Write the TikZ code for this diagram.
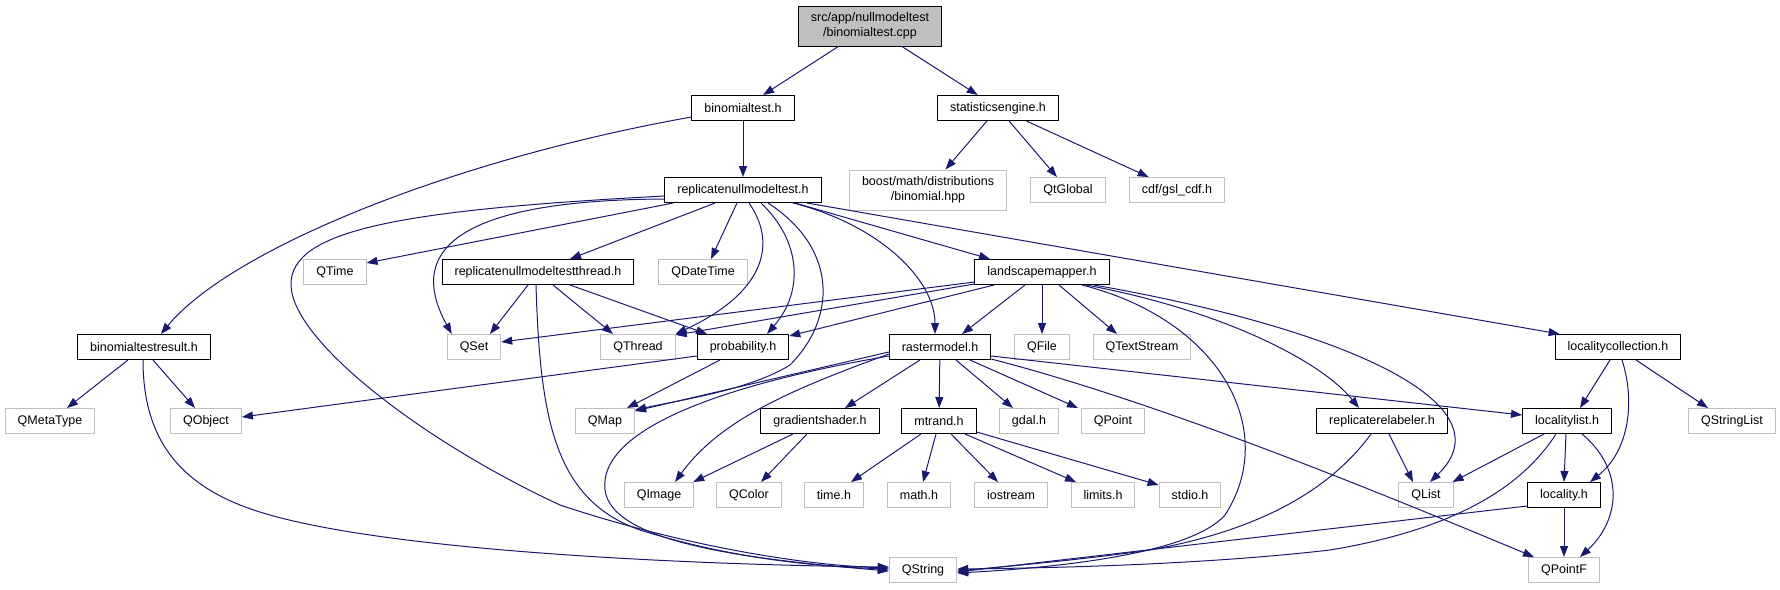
\documentclass[tikz,border=0pt]{standalone}
\usepackage{fontspec}
\setmainfont{Liberation Sans}
\usepackage{tikz}
\usetikzlibrary{arrows.meta}
\definecolor{edgeblue}{RGB}{25,25,112}
\definecolor{boxgrey}{RGB}{191,191,191}

\begin{document}
\begin{tikzpicture}[x=1pt, y=-1pt,
    box/.style={rectangle, line width=1pt, inner xsep=12.5pt, inner ysep=2pt, minimum height=25pt,
        font=\fontsize{12.5}{15}\selectfont, align=center},
    doc/.style={box, draw=black},
    ext/.style={box, draw=boxgrey},
    main/.style={box, draw=black, fill=boxgrey, minimum height=40pt},
    edge/.style={draw=edgeblue, line width=1pt, -{Triangle[length=11pt,width=8pt]}}]
                \useasboundingbox (0,0) rectangle (1780,589);

                \node (root) [main] at (870,26) {src/app/nullmodeltest\\/binomialtest.cpp};
                \node (btest) [doc] at (743,108) {binomialtest.h};
                \node (stateng) [doc] at (998,108) {statisticsengine.h};
                \node (rnmt) [doc] at (743,190) {replicatenullmodeltest.h};
                \node (boost) [ext, minimum height=40pt] at (928,190) {boost/math/distributions\\/binomial.hpp};
                \node (qtglobal) [ext] at (1068,190) {QtGlobal};
                \node (gslcdf) [ext] at (1177,190) {cdf/gsl\_cdf.h};
                \node (qtime) [ext] at (335,272) {QTime};
                \node (rnmtt) [doc] at (538,272) {replicatenullmodeltestthread.h};
                \node (qdatetime) [ext] at (703,272) {QDateTime};
                \node (lmapper) [doc] at (1042,272) {landscapemapper.h};
                \node (btresult) [doc] at (144,347) {binomialtestresult.h};
                \node (qset) [ext] at (474,347) {QSet};
                \node (qthread) [ext] at (638,347) {QThread};
                \node (prob) [doc] at (743,347) {probability.h};
                \node (rmodel) [doc] at (940,347) {rastermodel.h};
                \node (qfile) [ext] at (1042,347) {QFile};
                \node (qtextstream) [ext] at (1142,347) {QTextStream};
                \node (loccoll) [doc] at (1618,347) {localitycollection.h};
                \node (qmetatype) [ext] at (50,421) {QMetaType};
                \node (qobject) [ext] at (206,421) {QObject};
                \node (qmap) [ext] at (605,421) {QMap};
                \node (gshader) [doc] at (820,421) {gradientshader.h};
                \node (mtrand) [doc] at (939,421) {mtrand.h};
                \node (gdal) [ext] at (1029,421) {gdal.h};
                \node (qpoint) [ext] at (1113,421) {QPoint};
                \node (relabeler) [doc] at (1382,421) {replicaterelabeler.h};
                \node (loclist) [doc] at (1567,421) {localitylist.h};
                \node (qstringlist) [ext] at (1732,421) {QStringList};
                \node (qimage) [ext] at (659,495) {QImage};
                \node (qcolor) [ext] at (749,495) {QColor};
                \node (timeh) [ext] at (834,495) {time.h};
                \node (mathh) [ext] at (919,495) {math.h};
                \node (iostream) [ext] at (1011,495) {iostream};
                \node (limitsh) [ext] at (1103,495) {limits.h};
                \node (stdioh) [ext] at (1190,495) {stdio.h};
                \node (qlist) [ext] at (1426,495) {QList};
                \node (locality) [doc] at (1564,495) {locality.h};
                \node (qstring) [ext] at (923,570) {QString};
                \node (qpointf) [ext] at (1564,570) {QPointF};

                \draw [edge] (root) -- (btest);
                \draw [edge] (root) -- (stateng);
                \draw [edge] (btest) -- (rnmt);
                \draw [edge] ([yshift=-9pt]btest.west) .. controls (450,160) and (230,250) .. ([xshift=17pt]btresult.north);
                \draw [edge] (stateng) -- (boost);
                \draw [edge] (stateng) -- (qtglobal);
                \draw [edge] (stateng) -- (gslcdf);

                \draw [edge] ([yshift=-6pt]rnmt.west) .. controls (400,210) and (290,230) .. (291,285)
                    .. controls (292,340) and (420,440) .. (560,505) .. controls (680,545) and (800,565) .. ([yshift=2pt]qstring.west);
                \draw [edge] ([yshift=-9pt]rnmt.west) .. controls (480,200) and (400,240) .. ([xshift=5pt]qset.north west);
                \draw [edge] ([xshift=9pt]rnmt.south west) -- ([yshift=9pt]qtime.east);
                \draw [edge] ([xshift=-28pt]rnmt.south) -- ([xshift=32pt]rnmtt.north);
                \draw [edge] ([xshift=-6pt]rnmt.south) -- ([xshift=8pt]qdatetime.north);
                \draw [edge] ([xshift=6pt]rnmt.south) .. controls (775,240) and (770,290) .. (qthread.north east);
                \draw [edge] ([xshift=18pt]rnmt.south) .. controls (800,240) and (805,290) .. ([xshift=24pt]prob.north);
                \draw [edge] ([xshift=25pt]rnmt.south) .. controls (840,250) and (835,320) .. (790,365)
                    .. controls (750,390) and (680,400) .. ([yshift=-2pt]qmap.north east);
                \draw [edge] ([xshift=50pt]rnmt.south) .. controls (880,225) and (935,280) .. ([xshift=-5pt]rmodel.north);
                \draw [edge] ([xshift=52pt]rnmt.south) -- ([xshift=-52pt]lmapper.north);
                \draw [edge] ([xshift=64pt]rnmt.south) -- ([xshift=5pt]loccoll.north west);

                \draw [edge] ([xshift=-10pt]rnmtt.south) -- ([xshift=16pt]qset.north);
                \draw [edge] ([xshift=15pt]rnmtt.south) -- ([xshift=-25pt]qthread.north);
                \draw [edge] ([xshift=32pt]rnmtt.south) -- ([xshift=-36pt]prob.north);
                \draw [edge] ([xshift=-2pt]rnmtt.south) .. controls (540,420) and (555,500) .. (640,530)
                    .. controls (720,555) and (800,566) .. ([yshift=1pt]qstring.west);

                \draw [edge] ([yshift=-10pt]lmapper.west) -- ([yshift=5pt]qset.east);
                \draw [edge] ([yshift=-12pt]lmapper.west) -- ([yshift=12pt]qthread.east);
                \draw [edge] ([xshift=-48pt]lmapper.south) -- ([yshift=11pt]prob.east);
                \draw [edge] ([xshift=-17pt]lmapper.south) -- ([xshift=22pt]rmodel.north);
                \draw [edge] (lmapper) -- (qfile);
                \draw [edge] ([xshift=17pt]lmapper.south) -- ([xshift=-25pt]qtextstream.north);
                \draw [edge] ([xshift=44pt]lmapper.south) .. controls (1220,310) and (1320,360) .. ([xshift=-23pt]relabeler.north);
                \draw [edge] ([xshift=52pt]lmapper.south) .. controls (1350,330) and (1510,405) .. ([xshift=4pt]qlist.north);
                \draw [edge] ([xshift=40pt]lmapper.south) .. controls (1220,320) and (1280,430) .. (1225,515)
                    .. controls (1190,555) and (1050,568) .. ([yshift=-3pt]qstring.east);

                \draw [edge] ([yshift=-5pt]rmodel.west) -- ([yshift=-3pt]qmap.north east);
                \draw [edge] ([yshift=-7pt]rmodel.west) .. controls (790,390) and (720,420) .. ([xshift=16pt]qimage.north);
                \draw [edge] ([yshift=-9pt]rmodel.west) .. controls (720,385) and (598,430) .. (605,490)
                    .. controls (612,545) and (760,560) .. ([yshift=-1pt]qstring.west);
                \draw [edge] ([xshift=-20pt]rmodel.south) -- ([xshift=25pt]gshader.north);
                \draw [edge] (rmodel) -- (mtrand);
                \draw [edge] ([xshift=16pt]rmodel.south) -- ([xshift=-16pt]gdal.north);
                \draw [edge] ([xshift=30pt]rmodel.south) -- ([xshift=-35pt]qpoint.north);
                \draw [edge] ([yshift=-9pt]rmodel.east) -- ([yshift=6pt]loclist.west);
                \draw [edge] ([yshift=-12pt]rmodel.east) .. controls (1150,400) and (1350,480) .. ([xshift=-30pt]qpointf.north);

                \draw [edge] ([xshift=-27pt]gshader.south) -- ([xshift=-1pt]qimage.north east);
                \draw [edge] ([xshift=-13pt]gshader.south) -- ([xshift=12pt]qcolor.north);
                \draw [edge] ([xshift=-18pt]mtrand.south) -- ([xshift=17pt]timeh.north);
                \draw [edge] ([xshift=-3pt]mtrand.south) -- ([xshift=4pt]mathh.north);
                \draw [edge] ([xshift=12pt]mtrand.south) -- ([xshift=-13pt]iostream.north);
                \draw [edge] ([xshift=26pt]mtrand.south) -- ([xshift=-27pt]limitsh.north);
                \draw [edge] ([yshift=-11pt]mtrand.east) -- ([yshift=10pt]stdioh.west);

                \draw [edge] ([xshift=7pt]relabeler.south) -- ([xshift=-13pt]qlist.north);
                \draw [edge] ([xshift=-11pt]relabeler.south) .. controls (1330,490) and (1260,530) .. (1150,550)
                    .. controls (1080,560) and (1010,566) .. ([yshift=-1pt]qstring.east);
                \draw [edge] ([xshift=-8pt]loccoll.south) -- ([xshift=13pt]loclist.north);
                \draw [edge] ([xshift=4pt]loccoll.south) .. controls (1635,400) and (1630,450) .. ([xshift=26pt]locality.north);
                \draw [edge] ([xshift=18pt]loccoll.south) -- ([xshift=-24pt]qstringlist.north);
                \draw [edge] ([xshift=-23pt]loclist.south) -- ([xshift=-1pt]qlist.north east);
                \draw [edge] ([xshift=-1pt]loclist.south) -- (locality.north);
                \draw [edge] ([xshift=15pt]loclist.south) .. controls (1625,470) and (1620,520) .. ([xshift=16pt]qpointf.north);
                \draw [edge] ([xshift=-11pt]loclist.south) .. controls (1520,490) and (1450,530) .. (1330,550)
                    .. controls (1200,565) and (1050,568) .. ([yshift=1pt]qstring.east);
                \draw [edge] (locality) -- (qpointf);
                \draw [edge] ([yshift=-11pt]locality.west) -- ([yshift=-2pt]qstring.east);

                \draw [edge] ([xshift=-23pt]prob.south) -- ([xshift=-8pt]qmap.north east);
                \draw [edge] ([yshift=-9pt]prob.west) -- ([yshift=4pt]qobject.east);
                \draw [edge] ([xshift=-16pt]btresult.south) -- ([xshift=17pt]qmetatype.north);
                \draw [edge] ([xshift=9pt]btresult.south) -- ([xshift=-11pt]qobject.north);
                \draw [edge] ([xshift=-1pt]btresult.south) .. controls (143,440) and (180,490) .. (270,515)
                    .. controls (400,552) and (700,565) .. ([yshift=3pt]qstring.west);
            \end{tikzpicture}
\end{document}
